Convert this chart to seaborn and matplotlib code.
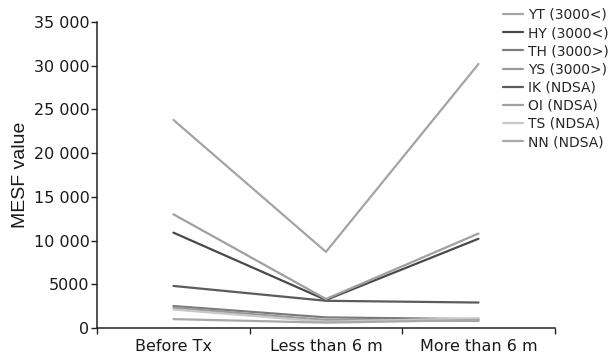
import pandas as pd
import matplotlib.pyplot as plt
import seaborn as sns

# MESF values
timepoints = ['Before Tx', 'Less than 6 m', 'More than 6 m']
patients = ['YT (3000<)', 'HY (3000<)', 'TH (3000>)', 'YS (3000>)',
            'IK (NDSA)', 'OI (NDSA)', 'TS (NDSA)', 'NN (NDSA)']
yt = [23800, 8700, 30200]
hy = [10900, 3200, 10200]
th = [2500, 1200, 1000]
ys = [2300, 900, 800]
ik = [4800, 3100, 2900]
oi = [13000, 3300, 10800]
ts = [2100, 700, 1100]
nn = [1000, 600, 900]
colors = ['#a4a4a4', '#4a4a4a', '#7c7c7c', '#9a9a9a',
          '#5c5c5c', '#a0a0a0', '#c8c8c8', '#a8a8a8']

series = [yt, hy, th, ys, ik, oi, ts, nn]
rows = []
for name, vals in zip(patients, series):
    for i, v in enumerate(vals):
        rows.append({'patient': name, 'pos': i, 'MESF': v})
df = pd.DataFrame(rows)

sns.set_style('ticks')
plt.rcParams['font.family'] = ['DejaVu Sans']

fig = plt.figure(figsize=(6.15, 3.56), dpi=100)
ax = fig.add_axes([0.158, 0.079, 0.744, 0.859])
sns.lineplot(data=df, x='pos', y='MESF', hue='patient', hue_order=patients,
             palette=colors, linewidth=1.6, ax=ax, legend=True)

ax.set_xlim(-0.5, 2.5)
ax.set_ylim(0, 35000)
ax.set_xticks([-0.5, 0.5, 1.5, 2.5])
ax.set_xticklabels([])
ax.set_xticks([0, 1, 2], minor=True)
ax.set_xticklabels(timepoints, minor=True, fontsize=11.5, color='#1a1a1a')
ax.tick_params(axis='x', which='minor', length=0, pad=8)
ax.tick_params(axis='both', which='major', direction='out', length=4,
               width=1, color='#222222', pad=1.5)
yt_ticks = list(range(0, 35001, 5000))
ax.set_yticks(yt_ticks)
ax.set_yticklabels(['0', '5000', '10 000', '15 000', '20 000',
                    '25 000', '30 000', '35 000'], fontsize=11.5,
                   color='#1a1a1a')
ax.set_xlabel('')
ax.set_ylabel('MESF value', fontsize=14, labelpad=3, color='#1a1a1a',
              family='Liberation Sans')
sns.despine(ax=ax)
for s in ['left', 'bottom']:
    ax.spines[s].set_color('#222222')
    ax.spines[s].set_linewidth(1.1)

ax.legend(loc='upper left', bbox_to_anchor=(503 / 615, 1 - 8 / 356),
          bbox_transform=fig.transFigure, frameon=False, fontsize=10,
          handlelength=1.45, handletextpad=0.36, labelspacing=0.3,
          borderpad=0, borderaxespad=0)

fig.savefig('out.png', dpi=100)
